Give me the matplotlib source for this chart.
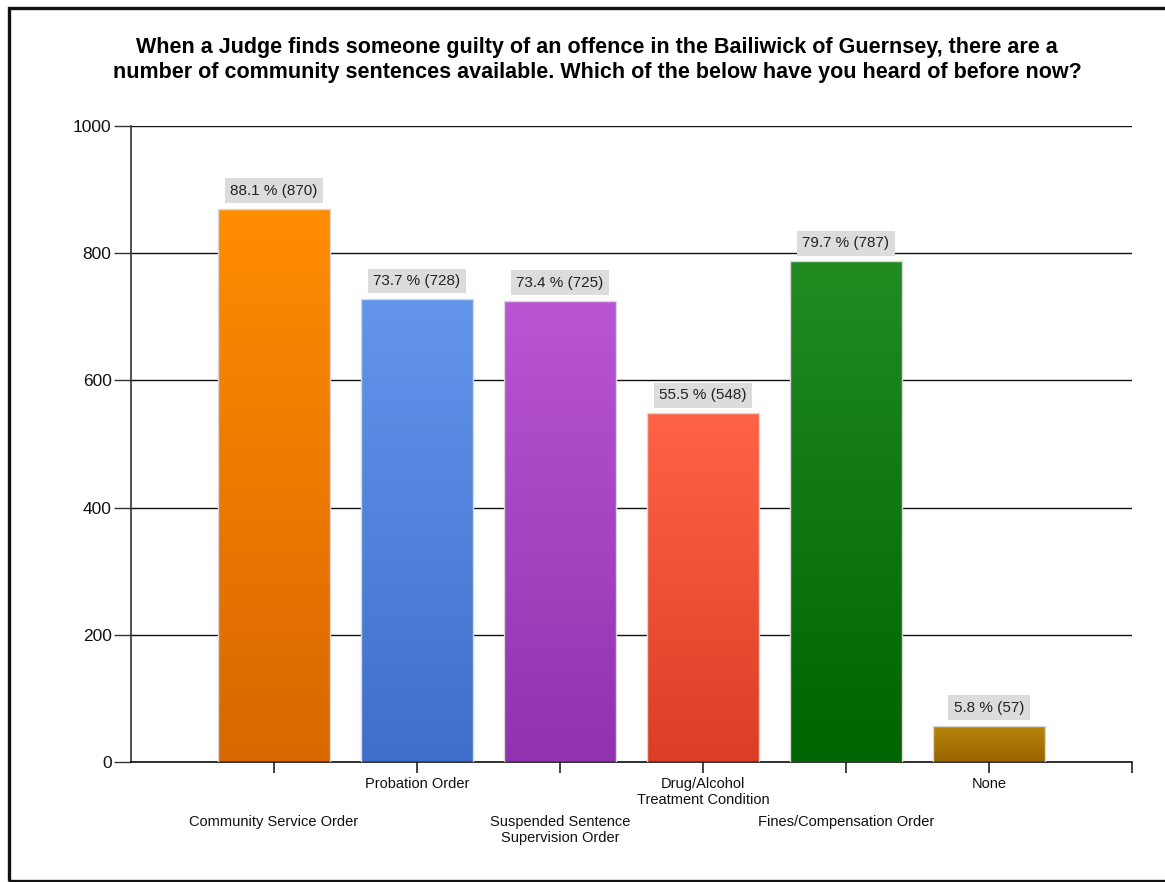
import numpy as np
import matplotlib
matplotlib.use("Agg")
import matplotlib.pyplot as plt
from matplotlib.colors import LinearSegmentedColormap
from matplotlib.patches import Rectangle

plt.rcParams['font.family'] = ['Liberation Sans', 'DejaVu Sans']

title = ("When a Judge finds someone guilty of an offence in the Bailiwick of Guernsey, there are a\n"
         "number of community sentences available. Which of the below have you heard of before now?")
categories = ["Community Service Order", "Probation Order",
              "Suspended Sentence\nSupervision Order",
              "Drug/Alcohol\nTreatment Condition",
              "Fines/Compensation Order", "None"]
counts = [870, 728, 725, 548, 787, 57]
percents = [88.1, 73.7, 73.4, 55.5, 79.7, 5.8]
top_colors = ["#FF8C00", "#6495ED", "#BA55D3", "#FF6347", "#228B22", "#B8860B"]
bottom_colors = ["#DA6700", "#3F6FC8", "#9232B0", "#DA3E24", "#006400", "#9A6400"]
y_ticks = [0, 200, 400, 600, 800, 1000]

W, H = 1165, 882
fig = plt.figure(figsize=(W / 100, H / 100), dpi=100)
fig.patch.set_facecolor("white")

# outer frame (right edge runs off the image)
fig.patches.append(Rectangle((8.5 / W, 1 - 880.5 / H), (1175 - 8.5) / W, (880.5 - 7.5) / H,
                             transform=fig.transFigure, fill=False,
                             edgecolor="#111111", linewidth=2.4))

ax = fig.add_axes([131 / W, 1 - 762 / H, (1132 - 131) / W, (762 - 126) / H])

x = np.arange(1, len(categories) + 1)
bars = ax.bar(x, counts, width=0.79, facecolor="none",
              edgecolor="#d8d8d8", linewidth=1.0, zorder=3)

for rect, c1, c2 in zip(bars, top_colors, bottom_colors):
    cmap = LinearSegmentedColormap.from_list("g", [c2, c1])
    grad = np.linspace(0, 1, 256).reshape(-1, 1)
    x0, w = rect.get_x(), rect.get_width()
    h = rect.get_height()
    im = ax.imshow(grad, cmap=cmap, origin="lower", aspect="auto",
                   extent=[x0, x0 + w, 0, h], zorder=2, interpolation="bilinear")
    im.set_clip_path(rect)

labels = [f"{p} % ({c})" for p, c in zip(percents, counts)]
ax.bar_label(bars, labels=labels, padding=8, fontsize=11, color="#222222",
             bbox=dict(boxstyle="square,pad=0.35", facecolor="#dcdcdc", edgecolor="none"))

ax.set_xlim(0, len(categories) + 1)
ax.set_ylim(0, 1000)
ax.set_yticks(y_ticks)
ax.set_yticklabels([str(v) for v in y_ticks], fontsize=12.5, color="#111111")
ax.yaxis.grid(True, color="#111111", linewidth=1.0)
ax.set_axisbelow(True)
ax.tick_params(axis="y", length=12, width=1, color="#333333", pad=2)

ax.set_xticks(list(x) + [len(categories) + 1])
ax.set_xticklabels(categories + [""], fontsize=10.5, color="#111111", linespacing=1.15)
ax.tick_params(axis="x", length=8, width=1.2, color="#222222")
for i, tick in enumerate(ax.xaxis.get_major_ticks()):
    if i < len(categories):
        tick.set_pad(3 if i % 2 == 1 else 30.5)

for s in ["top", "right"]:
    ax.spines[s].set_visible(False)
ax.spines["left"].set_color("#333333")
ax.spines["bottom"].set_color("#111111")
ax.spines["left"].set_linewidth(1.2)
ax.spines["bottom"].set_linewidth(1.2)

fig.text(597 / W, 1 - 60 / H, title, ha="center", va="center", fontsize=15.5,
         fontweight="bold", linespacing=1.2, color="#000000")

fig.savefig("out.png", dpi=100)
